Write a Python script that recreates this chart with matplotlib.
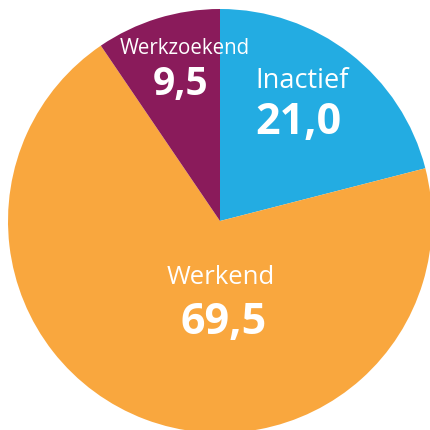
import matplotlib
matplotlib.use("Agg")
import matplotlib.pyplot as plt

categories = ["Inactief", "Werkend", "Werkzoekend"]
values = [21.0, 69.5, 9.5]
value_labels = ["21,0", "69,5", "9,5"]
colors = ["#23ace2", "#f9a73e", "#8a1b5b"]

fig = plt.figure(figsize=(4.3, 4.3), dpi=100)
ax = fig.add_axes([0, 0, 1, 1])

cx, cy, r = 220, 430 - 221, 212
ax.pie(values, colors=colors, startangle=90, counterclock=False,
       center=(cx, cy), radius=r, frame=True,
       wedgeprops=dict(linewidth=0))
ax.set_xlim(0, 430)
ax.set_ylim(0, 430)
ax.set_aspect("equal")
ax.axis("off")

# label positions (pixel coordinates, y from top)
name_pos = [(302, 81), (221, 277), (185, 48)]
val_pos = [(298, 123), (224, 322), (181, 84)]
name_sizes = [19.5, 18.5, 14.8]
val_sizes = [31, 31, 28]
for i in range(len(categories)):
    ax.text(name_pos[i][0], 430 - name_pos[i][1], categories[i],
            ha="center", va="center", color="white",
            fontsize=name_sizes[i], family="Open Sans")
    ax.text(val_pos[i][0], 430 - val_pos[i][1], value_labels[i],
            ha="center", va="center", color="white",
            fontsize=val_sizes[i], family="Open Sans", fontweight="bold")

fig.savefig("out.png", dpi=100)
